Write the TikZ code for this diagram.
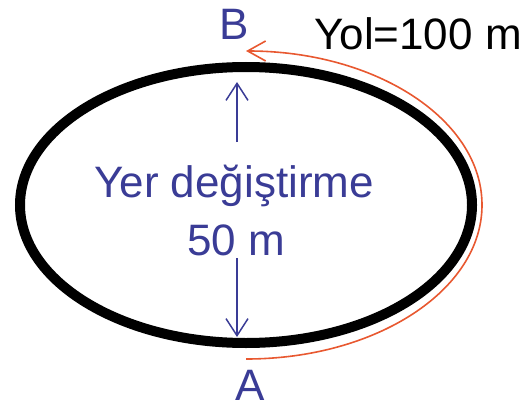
\documentclass[tikz,border=0pt]{standalone}
\usepackage{fontspec}
\setmainfont{Liberation Sans}
\usetikzlibrary{arrows.meta}
\definecolor{dispblue}{RGB}{58, 60, 150}
\definecolor{pathorange}{RGB}{232, 88, 48}

\begin{document}
\begin{tikzpicture}[
    x=1pt, y=1pt,
    track/.style={line width=10pt, black},
    disparrow/.style={-{Straight Barb[length=17pt, width=22pt]}, line width=1.5pt, dispblue},
    patharrow/.style={-{Straight Barb[length=18pt, width=20pt]}, line width=1.6pt, pathorange},
    label/.style={font=\fontsize{44}{52}\selectfont, inner sep=0pt},
    point/.style={label, text=dispblue}
]
\useasboundingbox (0,0) rectangle (526,405);

% Track
\draw[track] (246,200) ellipse [x radius=226, y radius=138];

% Ends of the displacement arrows
\coordinate (ovtop) at (237,323);
\coordinate (ovbot) at (237,68);
\coordinate (upstart) at (237,263);
\coordinate (downstart) at (237,147);

% Labels
\node[point] (pB) at (234,381) {B};
\node[point] (pA) at (250,20) {A};
\node[label] (yol) at (418,371) {Yol=100 m};
\node[label, text=dispblue, anchor=base] (disp) at (234,208) {Yer değiştirme};
\node[label, text=dispblue, anchor=base] (dist) at (236,150) {50 m};

% Arrows
\draw[disparrow] (upstart) -- (ovtop);
\draw[disparrow] (downstart) -- (ovbot);
\draw[patharrow] (246,46) arc [start angle=270, end angle=450, x radius=236, y radius=154];
\end{tikzpicture}
\end{document}
